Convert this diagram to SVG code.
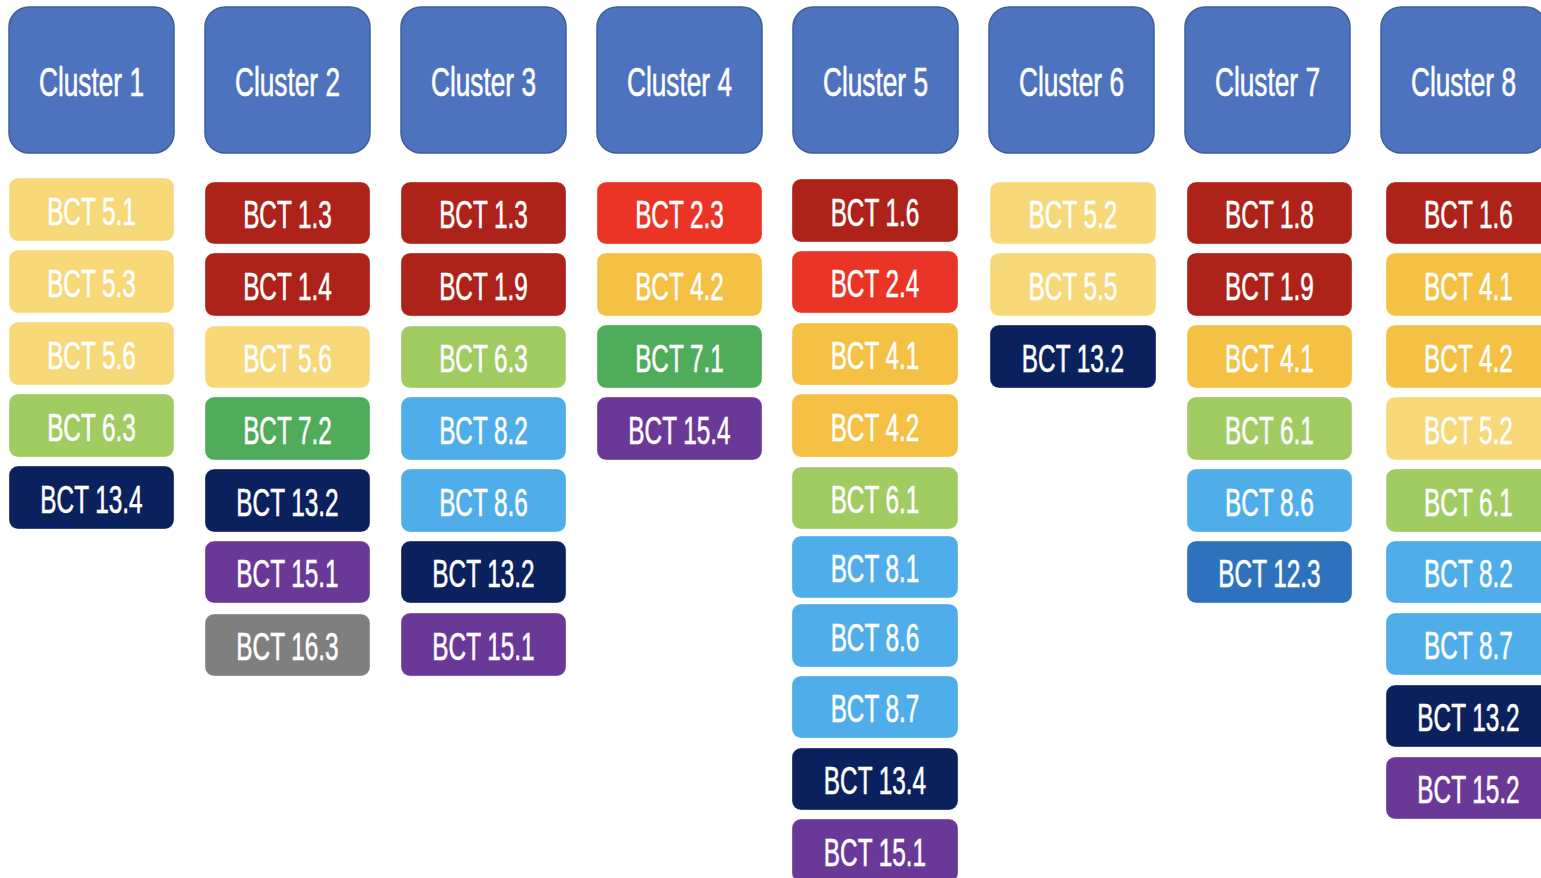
<svg xmlns="http://www.w3.org/2000/svg" width="1541" height="878" viewBox="0 0 1541 878">
  <style>
    .hd { fill: #4e73be; stroke: #3f5f9b; stroke-width: 1.5; }
    .bx { stroke: #ffffff; stroke-opacity: 0.35; stroke-width: 1; }
    .y  { fill: #f7d97a; }
    .dr { fill: #ad2219; }
    .r  { fill: #ea3425; }
    .o  { fill: #f4c144; }
    .lg { fill: #a0cc62; }
    .g  { fill: #4fac5b; }
    .lb { fill: #4faeea; }
    .n  { fill: #0b215d; }
    .p  { fill: #6a3897; }
    .gr { fill: #7f7f7f; }
    .mb { fill: #2e72bd; }
    text {
      font-family: "Liberation Sans", Arial, sans-serif;
      fill: #ffffff;
      stroke: #ffffff;
      stroke-width: 0.6;
      text-anchor: middle;
      transform-box: fill-box;
      transform-origin: center;
      transform: scaleX(0.64);
    }
    .ht { font-size: 41px; }
    .bt { font-size: 38px; }
  </style>

  <!-- Column headers -->
  <g id="headers">
    <g id="cluster1"><rect class="hd" x="9" y="7" width="165" height="146" rx="20"/><text class="ht" x="91.5" y="96">Cluster 1</text></g>
    <g id="cluster2"><rect class="hd" x="205" y="7" width="165" height="146" rx="20"/><text class="ht" x="287.5" y="96">Cluster 2</text></g>
    <g id="cluster3"><rect class="hd" x="401" y="7" width="165" height="146" rx="20"/><text class="ht" x="483.5" y="96">Cluster 3</text></g>
    <g id="cluster4"><rect class="hd" x="597" y="7" width="165" height="146" rx="20"/><text class="ht" x="679.5" y="96">Cluster 4</text></g>
    <g id="cluster5"><rect class="hd" x="793" y="7" width="165" height="146" rx="20"/><text class="ht" x="875.5" y="96">Cluster 5</text></g>
    <g id="cluster6"><rect class="hd" x="989" y="7" width="165" height="146" rx="20"/><text class="ht" x="1071.5" y="96">Cluster 6</text></g>
    <g id="cluster7"><rect class="hd" x="1185" y="7" width="165" height="146" rx="20"/><text class="ht" x="1267.5" y="96">Cluster 7</text></g>
    <g id="cluster8"><rect class="hd" x="1381" y="7" width="165" height="146" rx="20"/><text class="ht" x="1463.5" y="96">Cluster 8</text></g>
  </g>

  <!-- Cluster 1 items -->
  <g id="c1-items">
    <g id="c1-bct5-1"><rect class="bx y" x="9" y="178" width="165" height="63" rx="9"/><text class="bt" x="91.5" y="225">BCT 5.1</text></g>
    <g id="c1-bct5-3"><rect class="bx y" x="9" y="250" width="165" height="63" rx="9"/><text class="bt" x="91.5" y="297">BCT 5.3</text></g>
    <g id="c1-bct5-6"><rect class="bx y" x="9" y="322" width="165" height="63" rx="9"/><text class="bt" x="91.5" y="369">BCT 5.6</text></g>
    <g id="c1-bct6-3"><rect class="bx lg" x="9" y="394" width="165" height="63" rx="9"/><text class="bt" x="91.5" y="441">BCT 6.3</text></g>
    <g id="c1-bct13-4"><rect class="bx n" x="9" y="466" width="165" height="63" rx="9"/><text class="bt" x="91.5" y="513">BCT 13.4</text></g>
  </g>

  <!-- Cluster 2 items -->
  <g id="c2-items">
    <g id="c2-bct1-3"><rect class="bx dr" x="205" y="182" width="165" height="62" rx="9"/><text class="bt" x="287.5" y="228">BCT 1.3</text></g>
    <g id="c2-bct1-4"><rect class="bx dr" x="205" y="253" width="165" height="63" rx="9"/><text class="bt" x="287.5" y="300">BCT 1.4</text></g>
    <g id="c2-bct5-6"><rect class="bx y" x="205" y="326" width="165" height="62" rx="9"/><text class="bt" x="287.5" y="372">BCT 5.6</text></g>
    <g id="c2-bct7-2"><rect class="bx g" x="205" y="397" width="165" height="63" rx="9"/><text class="bt" x="287.5" y="444">BCT 7.2</text></g>
    <g id="c2-bct13-2"><rect class="bx n" x="205" y="469" width="165" height="63" rx="9"/><text class="bt" x="287.5" y="516">BCT 13.2</text></g>
    <g id="c2-bct15-1"><rect class="bx p" x="205" y="541" width="165" height="62" rx="9"/><text class="bt" x="287.5" y="587">BCT 15.1</text></g>
    <g id="c2-bct16-3"><rect class="bx gr" x="205" y="614" width="165" height="62" rx="9"/><text class="bt" x="287.5" y="660">BCT 16.3</text></g>
  </g>

  <!-- Cluster 3 items -->
  <g id="c3-items">
    <g id="c3-bct1-3"><rect class="bx dr" x="401" y="182" width="165" height="62" rx="9"/><text class="bt" x="483.5" y="228">BCT 1.3</text></g>
    <g id="c3-bct1-9"><rect class="bx dr" x="401" y="253" width="165" height="63" rx="9"/><text class="bt" x="483.5" y="300">BCT 1.9</text></g>
    <g id="c3-bct6-3"><rect class="bx lg" x="401" y="326" width="165" height="62" rx="9"/><text class="bt" x="483.5" y="372">BCT 6.3</text></g>
    <g id="c3-bct8-2"><rect class="bx lb" x="401" y="397" width="165" height="63" rx="9"/><text class="bt" x="483.5" y="444">BCT 8.2</text></g>
    <g id="c3-bct8-6"><rect class="bx lb" x="401" y="469" width="165" height="63" rx="9"/><text class="bt" x="483.5" y="516">BCT 8.6</text></g>
    <g id="c3-bct13-2"><rect class="bx n" x="401" y="541" width="165" height="62" rx="9"/><text class="bt" x="483.5" y="587">BCT 13.2</text></g>
    <g id="c3-bct15-1"><rect class="bx p" x="401" y="613" width="165" height="63" rx="9"/><text class="bt" x="483.5" y="660">BCT 15.1</text></g>
  </g>

  <!-- Cluster 4 items -->
  <g id="c4-items">
    <g id="c4-bct2-3"><rect class="bx r" x="597" y="182" width="165" height="62" rx="9"/><text class="bt" x="679.5" y="228">BCT 2.3</text></g>
    <g id="c4-bct4-2"><rect class="bx o" x="597" y="253" width="165" height="63" rx="9"/><text class="bt" x="679.5" y="300">BCT 4.2</text></g>
    <g id="c4-bct7-1"><rect class="bx g" x="597" y="325" width="165" height="63" rx="9"/><text class="bt" x="679.5" y="372">BCT 7.1</text></g>
    <g id="c4-bct15-4"><rect class="bx p" x="597" y="397" width="165" height="63" rx="9"/><text class="bt" x="679.5" y="444">BCT 15.4</text></g>
  </g>

  <!-- Cluster 5 items -->
  <g id="c5-items">
    <g id="c5-bct1-6"><rect class="bx dr" x="792" y="179" width="166" height="63" rx="9"/><text class="bt" x="875" y="226">BCT 1.6</text></g>
    <g id="c5-bct2-4"><rect class="bx r" x="792" y="251" width="166" height="62" rx="9"/><text class="bt" x="875" y="297">BCT 2.4</text></g>
    <g id="c5-bct4-1"><rect class="bx o" x="792" y="323" width="166" height="62" rx="9"/><text class="bt" x="875" y="369">BCT 4.1</text></g>
    <g id="c5-bct4-2"><rect class="bx o" x="792" y="394" width="166" height="63" rx="9"/><text class="bt" x="875" y="441">BCT 4.2</text></g>
    <g id="c5-bct6-1"><rect class="bx lg" x="792" y="467" width="166" height="62" rx="9"/><text class="bt" x="875" y="513">BCT 6.1</text></g>
    <g id="c5-bct8-1"><rect class="bx lb" x="792" y="536" width="166" height="62" rx="9"/><text class="bt" x="875" y="582">BCT 8.1</text></g>
    <g id="c5-bct8-6"><rect class="bx lb" x="792" y="604" width="166" height="63" rx="9"/><text class="bt" x="875" y="651">BCT 8.6</text></g>
    <g id="c5-bct8-7"><rect class="bx lb" x="792" y="676" width="166" height="62" rx="9"/><text class="bt" x="875" y="722">BCT 8.7</text></g>
    <g id="c5-bct13-4"><rect class="bx n" x="792" y="748" width="166" height="62" rx="9"/><text class="bt" x="875" y="794">BCT 13.4</text></g>
    <g id="c5-bct15-1"><rect class="bx p" x="792" y="819" width="166" height="63" rx="9"/><text class="bt" x="875" y="866">BCT 15.1</text></g>
  </g>

  <!-- Cluster 6 items -->
  <g id="c6-items">
    <g id="c6-bct5-2"><rect class="bx y" x="990" y="182" width="166" height="62" rx="9"/><text class="bt" x="1073" y="228">BCT 5.2</text></g>
    <g id="c6-bct5-5"><rect class="bx y" x="990" y="253" width="166" height="63" rx="9"/><text class="bt" x="1073" y="300">BCT 5.5</text></g>
    <g id="c6-bct13-2"><rect class="bx n" x="990" y="325" width="166" height="63" rx="9"/><text class="bt" x="1073" y="372">BCT 13.2</text></g>
  </g>

  <!-- Cluster 7 items -->
  <g id="c7-items">
    <g id="c7-bct1-8"><rect class="bx dr" x="1187" y="182" width="165" height="62" rx="9"/><text class="bt" x="1269.5" y="228">BCT 1.8</text></g>
    <g id="c7-bct1-9"><rect class="bx dr" x="1187" y="253" width="165" height="63" rx="9"/><text class="bt" x="1269.5" y="300">BCT 1.9</text></g>
    <g id="c7-bct4-1"><rect class="bx o" x="1187" y="325" width="165" height="63" rx="9"/><text class="bt" x="1269.5" y="372">BCT 4.1</text></g>
    <g id="c7-bct6-1"><rect class="bx lg" x="1187" y="397" width="165" height="63" rx="9"/><text class="bt" x="1269.5" y="444">BCT 6.1</text></g>
    <g id="c7-bct8-6"><rect class="bx lb" x="1187" y="469" width="165" height="63" rx="9"/><text class="bt" x="1269.5" y="516">BCT 8.6</text></g>
    <g id="c7-bct12-3"><rect class="bx mb" x="1187" y="541" width="165" height="62" rx="9"/><text class="bt" x="1269.5" y="587">BCT 12.3</text></g>
  </g>

  <!-- Cluster 8 items -->
  <g id="c8-items">
    <g id="c8-bct1-6"><rect class="bx dr" x="1386" y="182" width="165" height="62" rx="9"/><text class="bt" x="1468.5" y="228">BCT 1.6</text></g>
    <g id="c8-bct4-1"><rect class="bx o" x="1386" y="253" width="165" height="63" rx="9"/><text class="bt" x="1468.5" y="300">BCT 4.1</text></g>
    <g id="c8-bct4-2"><rect class="bx o" x="1386" y="325" width="165" height="63" rx="9"/><text class="bt" x="1468.5" y="372">BCT 4.2</text></g>
    <g id="c8-bct5-2"><rect class="bx y" x="1386" y="397" width="165" height="63" rx="9"/><text class="bt" x="1468.5" y="444">BCT 5.2</text></g>
    <g id="c8-bct6-1"><rect class="bx lg" x="1386" y="469" width="165" height="63" rx="9"/><text class="bt" x="1468.5" y="516">BCT 6.1</text></g>
    <g id="c8-bct8-2"><rect class="bx lb" x="1386" y="541" width="165" height="62" rx="9"/><text class="bt" x="1468.5" y="587">BCT 8.2</text></g>
    <g id="c8-bct8-7"><rect class="bx lb" x="1386" y="613" width="165" height="62" rx="9"/><text class="bt" x="1468.5" y="659">BCT 8.7</text></g>
    <g id="c8-bct13-2"><rect class="bx n" x="1386" y="685" width="165" height="62" rx="9"/><text class="bt" x="1468.5" y="731">BCT 13.2</text></g>
    <g id="c8-bct15-2"><rect class="bx p" x="1386" y="757" width="165" height="62" rx="9"/><text class="bt" x="1468.5" y="803">BCT 15.2</text></g>
  </g>
</svg>
